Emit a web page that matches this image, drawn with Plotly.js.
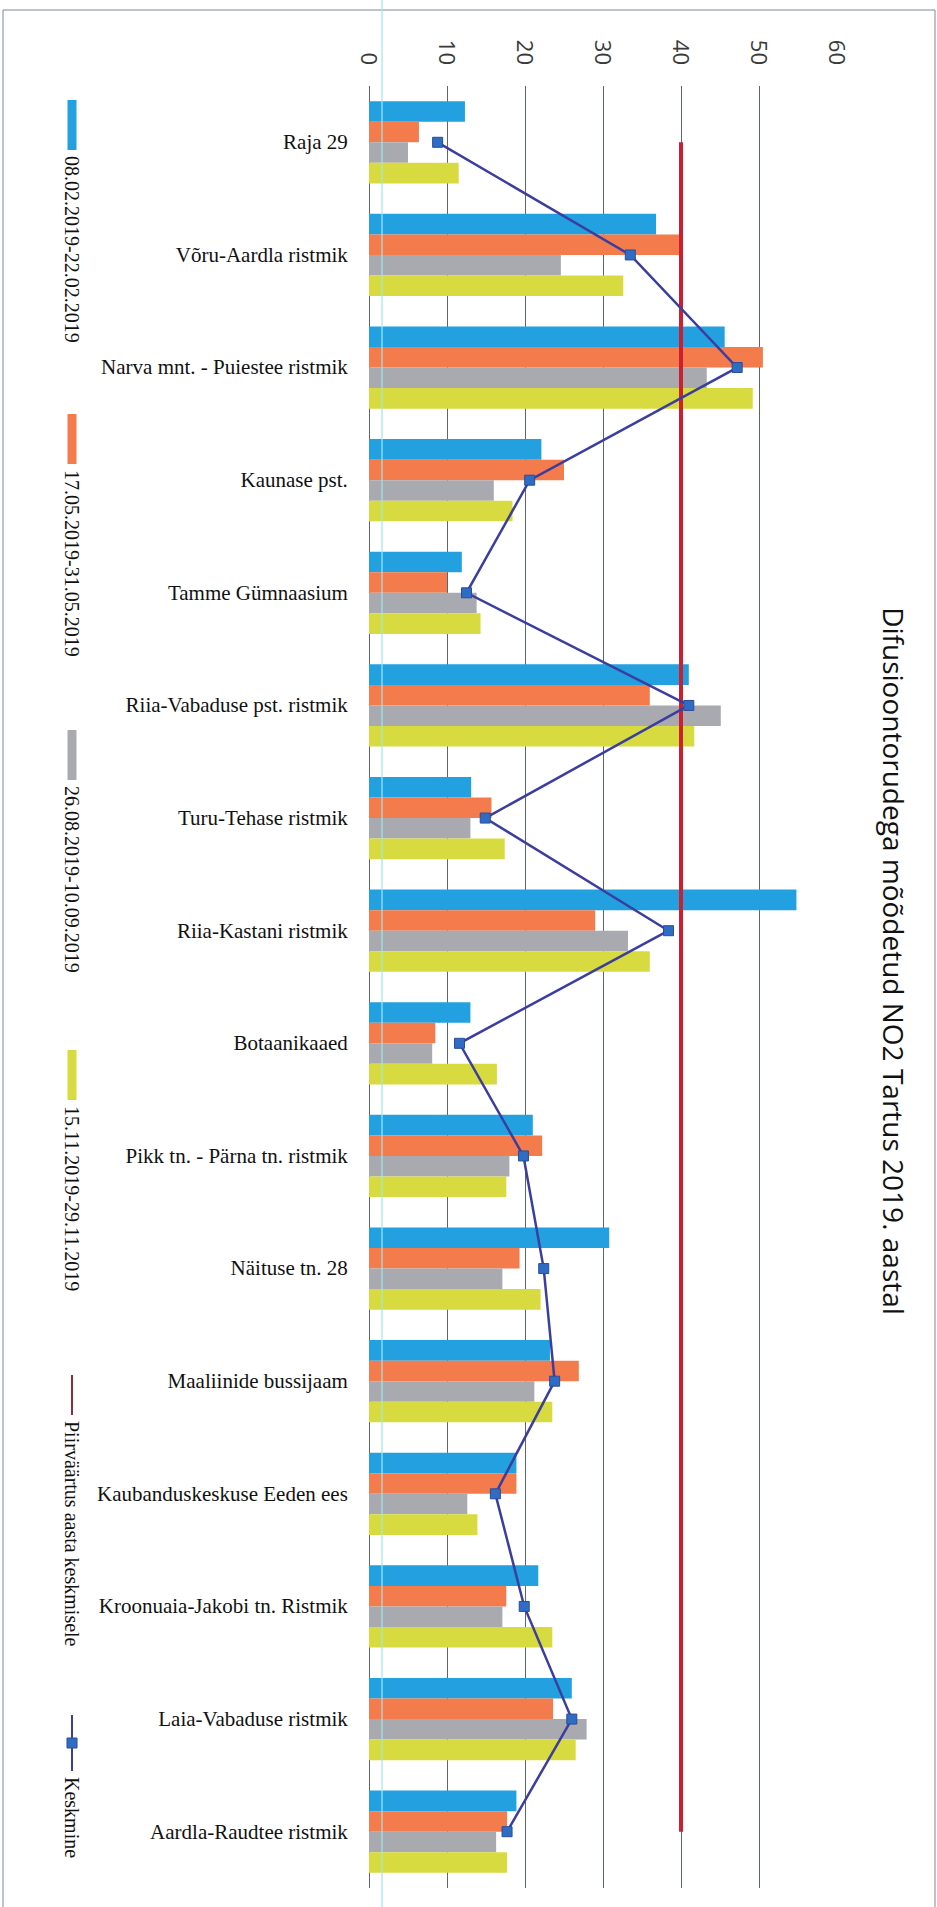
<!DOCTYPE html>
<html>
<head>
<meta charset="utf-8">
<script src="https://cdn.plot.ly/plotly-3.0.1.min.js"></script>
<style>
  html, body { margin: 0; padding: 0; overflow: hidden; background: #ffffff; }
  /* The chart is laid out landscape and turned a quarter turn clockwise onto the page */
  #wrap {
    position: absolute; left: 0; top: 0;
    width: 1907px; height: 937px;
    transform-origin: 0 0;
    transform: translate(937px, 0) rotate(90deg);
  }
  #chart { width: 1907px; height: 937px; }
</style>
</head>
<body>
<div id="wrap"><div id="chart"></div></div>
<script>
// Measuring sites
const sites = [
  "Raja 29",
  "Võru-Aardla ristmik",
  "Narva mnt. - Puiestee ristmik",
  "Kaunase pst.",
  "Tamme Gümnaasium",
  "Riia-Vabaduse pst. ristmik",
  "Turu-Tehase ristmik",
  "Riia-Kastani ristmik",
  "Botaanikaaed",
  "Pikk tn. - Pärna tn. ristmik",
  "Näituse tn. 28",
  "Maaliinide bussijaam",
  "Kaubanduskeskuse Eeden ees",
  "Kroonuaia-Jakobi tn. Ristmik",
  "Laia-Vabaduse ristmik",
  "Aardla-Raudtee ristmik"
];

// NO2 concentration per measuring period (µg/m³)
const period1 = [12.3, 36.8, 45.6, 22.1, 11.9, 41.0, 13.1, 54.8, 13.0, 21.0, 30.8, 23.2, 18.9, 21.7, 26.0, 18.9];
const period2 = [6.4, 40.2, 50.5, 25.0, 10.0, 36.0, 15.7, 29.0, 8.5, 22.2, 19.3, 26.9, 18.9, 17.6, 23.6, 17.7];
const period3 = [5.0, 24.6, 43.3, 16.0, 13.8, 45.1, 13.0, 33.2, 8.1, 18.0, 17.1, 21.2, 12.6, 17.1, 27.9, 16.3];
const period4 = [11.5, 32.6, 49.2, 18.4, 14.3, 41.7, 17.4, 36.0, 16.4, 17.6, 22.0, 23.5, 13.9, 23.5, 26.5, 17.7];
// Annual limit value and the average of the four periods
const limitValue = [40, 40, 40, 40, 40, 40, 40, 40, 40, 40, 40, 40, 40, 40, 40, 40];
const average = [8.8, 33.5, 47.2, 20.6, 12.5, 41.0, 14.9, 38.4, 11.6, 19.8, 22.4, 23.8, 16.2, 19.9, 26.0, 17.7];

const seriesNames = [
  "08.02.2019-22.02.2019",
  "17.05.2019-31.05.2019",
  "26.08.2019-10.09.2019",
  "15.11.2019-29.11.2019",
  "Piirväärtus aasta keskmisele",
  "Keskmine"
];
const valueTicks = [0, 10, 20, 30, 40, 50, 60];
const chartTitle = "Difusioontorudega mõõdetud NO2 Tartus 2019. aastal";

const barColors = ["#22A0E0", "#F47B4C", "#A9AAB0", "#D8DB40"];
const limitColor = "#CC2030";
const avgLine = "#3B3E9E";
const avgMarker = "#2F6CC4";

// Layout geometry (landscape frame)
const W = 1907, H = 937;
const M = { l: 86, r: 19, t: 100, b: 369 };
const PW = W - M.l - M.r, PH = H - M.t - M.b;
const px = u => (u - M.l) / PW;          // horizontal pixel -> paper x
const py = v => (H - M.b - v) / PH;      // vertical pixel -> paper y

const periods = [period1, period2, period3, period4];
const traces = periods.map((vals, i) => ({
  type: "bar",
  x: sites,
  y: vals,
  name: seriesNames[i],
  marker: { color: barColors[i], line: { width: 0 } },
  showlegend: false
}));
traces.push({
  type: "scatter", mode: "lines",
  x: sites, y: limitValue, name: seriesNames[4],
  line: { color: limitColor, width: 4 },
  showlegend: false
});
traces.push({
  type: "scatter", mode: "lines+markers",
  x: sites, y: average, name: seriesNames[5],
  line: { color: avgLine, width: 2.5 },
  marker: { symbol: "square", size: 10, color: avgMarker, line: { color: "#2A4C9A", width: 1 } },
  showlegend: false
});

// Legend drawn along the bottom of the frame
const legendStart = [100, 414, 730, 1050, 1375, 1715];
const legendV = 865;
const shapes = [];
const annotations = [];
legendStart.forEach((u0, i) => {
  let len;
  if (i < 4) {
    len = 50;
    shapes.push({ type: "rect", xref: "paper", yref: "paper",
      x0: px(u0), x1: px(u0 + len), y0: py(legendV + 4.5), y1: py(legendV - 4.5),
      fillcolor: barColors[i], line: { width: 0 } });
  } else if (i === 4) {
    len = 40;
    shapes.push({ type: "line", xref: "paper", yref: "paper",
      x0: px(u0), x1: px(u0 + len), y0: py(legendV), y1: py(legendV),
      line: { color: "#8E2A3A", width: 2 } });
  } else {
    len = 56;
    shapes.push({ type: "line", xref: "paper", yref: "paper",
      x0: px(u0), x1: px(u0 + len), y0: py(legendV), y1: py(legendV),
      line: { color: avgLine, width: 2 } });
    shapes.push({ type: "rect", xref: "paper", yref: "paper",
      x0: px(u0 + len / 2 - 5), x1: px(u0 + len / 2 + 5), y0: py(legendV + 5), y1: py(legendV - 5),
      fillcolor: avgMarker, line: { color: "#2A4C9A", width: 1 } });
  }
  annotations.push({
    xref: "paper", yref: "paper", x: px(u0 + len + 4), y: py(legendV),
    xanchor: "left", yanchor: "middle", showarrow: false,
    text: seriesNames[i],
    font: { family: "Liberation Serif, serif", size: 20, color: "#111111" }
  });
});

// Outer chart frame
shapes.push({ type: "rect", xref: "paper", yref: "paper", layer: "below",
  x0: px(10), x1: px(1930), y0: py(934), y1: py(2),
  line: { color: "#7D8799", width: 1 }, fillcolor: "rgba(0,0,0,0)" });
// Thin cyan guide running across the whole sheet
shapes.push({ type: "line", xref: "paper", yref: "paper", layer: "above",
  x0: px(0), x1: px(W), y0: py(555), y1: py(555),
  line: { color: "#9EE9EE", width: 1.5 }, opacity: 0.8 });

const layout = {
  width: W, height: H,
  margin: { l: M.l, r: M.r, t: M.t, b: M.b, pad: 0 },
  paper_bgcolor: "#ffffff",
  plot_bgcolor: "#ffffff",
  barmode: "group",
  bargap: 0.27,
  bargroupgap: 0,
  showlegend: false,
  title: {
    text: chartTitle,
    font: { family: "Open Sans, sans-serif", size: 28, color: "#111111" },
    xref: "container", yref: "container",
    x: 961 / W, xanchor: "center",
    y: 1 - 44 / H, yanchor: "middle"
  },
  xaxis: {
    type: "category",
    range: [-0.5, sites.length - 0.5],
    autorange: false,
    tickangle: -90,
    ticks: "",
    ticklabelstandoff: 16,
    tickfont: { family: "Liberation Serif, serif", size: 21, color: "#111111" },
    showgrid: false,
    showline: false,
    zeroline: false
  },
  yaxis: {
    range: [0, 60],
    autorange: false,
    tickvals: valueTicks,
    ticktext: valueTicks.map(String),
    ticks: "",
    ticklabelstandoff: 20,
    tickfont: { family: "Open Sans, sans-serif", size: 22, color: "#3a3a3a" },
    showgrid: true,
    gridcolor: "#5A6578",
    gridwidth: 1,
    zeroline: true,
    zerolinecolor: "#5A6578",
    zerolinewidth: 1,
    showline: false
  },
  shapes: shapes,
  annotations: annotations
};

Plotly.newPlot("chart", traces, layout, { staticPlot: true, displayModeBar: false });
</script>
</body>
</html>
